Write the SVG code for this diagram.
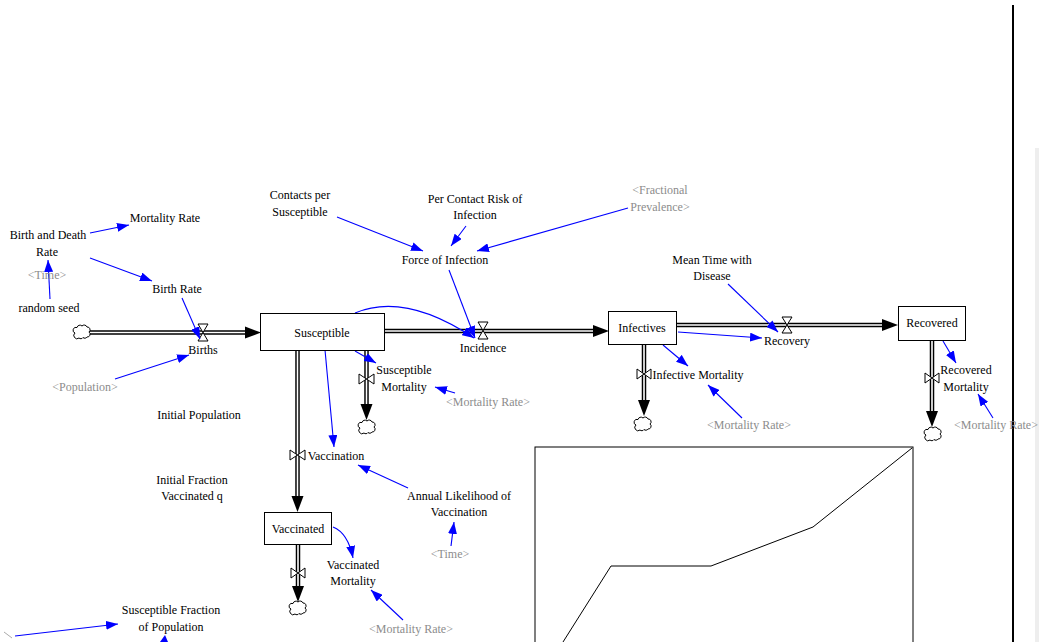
<svg xmlns="http://www.w3.org/2000/svg" width="1039" height="642" viewBox="0 0 1039 642" font-family="'Liberation Serif','Times New Roman',serif">
<style>
text{font-family:"Liberation Serif","Times New Roman",serif;font-size:12px;fill:#000;text-anchor:middle}
text.g{fill:#8c8c8c}
.box{fill:#fff;stroke:#000;stroke-width:1}
.po{stroke:#000;stroke-width:4.5;fill:none}
.pi{stroke:#fff;stroke-width:1.6;fill:none}
.ah{fill:#000}
.valve{fill:#fff;stroke:#000;stroke-width:1}
.cloud{fill:#fff;stroke:#000;stroke-width:1}
.lk{stroke:#0000ff;stroke-width:1.1;fill:none;marker-end:url(#a)}
</style>
<defs>
<marker id="a" markerWidth="12" markerHeight="9" refX="12" refY="4.5" orient="auto" markerUnits="userSpaceOnUse"><path d="M0,0 L12,4.5 L0,9 Z" fill="#0000ff"/></marker>
<path id="cl" d="M-7,1 A2.8,2.8 0 0 1 -5,-4.5 A3,3 0 0 1 0,-6 A3,3 0 0 1 5,-5 A2.8,2.8 0 0 1 7,0 A2.8,2.8 0 0 1 5,5 A2.6,2.6 0 0 1 1,5.5 A2.6,2.6 0 0 1 -3,6 A2.8,2.8 0 0 1 -7,1 Z" class="cloud"/>
</defs>

<rect width="1039" height="642" fill="#fff"/>
<line x1="1013" y1="5" x2="1013" y2="642" stroke="#000" stroke-width="2"/>
<rect x="1035" y="148" width="4" height="494" fill="#eeeeee"/>

<g id="graph">
<rect x="535" y="447" width="378" height="200" fill="#fff" stroke="#000" stroke-width="1"/>
<polyline points="912,448 813,527 711,566 611,566 563,642" fill="none" stroke="#000" stroke-width="1"/>
</g>

<g id="flows">
<!-- Births -->
<line class="po" x1="89" y1="332.5" x2="246" y2="332.5"/><line class="pi" x1="89" y1="332.5" x2="246" y2="332.5"/>
<polygon class="ah" points="261,332.5 245,326.5 245,338.5"/>
<use href="#cl" x="82" y="332"/>
<path class="valve" d="M198,324 L208,324 L198,341 L208,341 Z"/>
<!-- Incidence -->
<line class="po" x1="385" y1="331" x2="595" y2="331"/><line class="pi" x1="385" y1="331" x2="595" y2="331"/>
<polygon class="ah" points="609,331 593,325 593,337"/>
<path class="valve" d="M478,322 L488,322 L478,339 L488,339 Z"/>
<!-- Recovery -->
<line class="po" x1="677" y1="325" x2="884" y2="325"/><line class="pi" x1="677" y1="325" x2="884" y2="325"/>
<polygon class="ah" points="898,325 882,319 882,331"/>
<path class="valve" d="M782,317 L792,317 L782,333 L792,333 Z"/>
<!-- Susceptible Mortality -->
<line class="po" x1="366.5" y1="351" x2="366.5" y2="405"/><line class="pi" x1="366.5" y1="351" x2="366.5" y2="405"/>
<polygon class="ah" points="366.5,420 360.5,404 372.5,404"/>
<use href="#cl" x="367" y="427"/>
<path class="valve" d="M359,374 L359,384 L374,374 L374,384 Z"/>
<!-- Vaccination -->
<line class="po" x1="297.5" y1="351" x2="297.5" y2="498"/><line class="pi" x1="297.5" y1="351" x2="297.5" y2="498"/>
<polygon class="ah" points="297.5,512 291.5,496 303.5,496"/>
<path class="valve" d="M290,450 L290,460 L305,450 L305,460 Z"/>
<!-- Vaccinated Mortality -->
<line class="po" x1="298" y1="545" x2="298" y2="588"/><line class="pi" x1="298" y1="545" x2="298" y2="588"/>
<polygon class="ah" points="298,602 292,586 304,586"/>
<use href="#cl" x="298" y="608"/>
<path class="valve" d="M291,568 L291,578 L305,568 L305,578 Z"/>
<!-- Infective Mortality -->
<line class="po" x1="644" y1="345" x2="644" y2="402"/><line class="pi" x1="644" y1="345" x2="644" y2="402"/>
<polygon class="ah" points="644,416 638,400 650,400"/>
<use href="#cl" x="643" y="424"/>
<path class="valve" d="M637,369 L637,379 L651,369 L651,379 Z"/>
<!-- Recovered Mortality -->
<line class="po" x1="932" y1="341" x2="932" y2="413"/><line class="pi" x1="932" y1="341" x2="932" y2="413"/>
<polygon class="ah" points="932,427 926,411 938,411"/>
<use href="#cl" x="933" y="434"/>
<path class="valve" d="M925,373 L925,383 L939,373 L939,383 Z"/>
</g>

<g id="links">
<line class="lk" x1="90" y1="233" x2="129" y2="225"/>
<line class="lk" x1="90" y1="258" x2="152" y2="281"/>
<line class="lk" x1="50" y1="299" x2="48" y2="260"/>
<line class="lk" x1="182" y1="298" x2="200" y2="339"/>
<line class="lk" x1="115" y1="379" x2="189" y2="355"/>
<line class="lk" x1="337" y1="217" x2="423" y2="251"/>
<line class="lk" x1="466" y1="226" x2="451" y2="246"/>
<line class="lk" x1="628" y1="208" x2="477" y2="251"/>
<line class="lk" x1="449" y1="270" x2="475" y2="338"/>
<path class="lk" d="M355,313 Q405,292 474,338"/>
<line class="lk" x1="355" y1="351" x2="376" y2="363"/>
<line class="lk" x1="455" y1="393" x2="435" y2="387"/>
<line class="lk" x1="325" y1="350" x2="334" y2="447"/>
<line class="lk" x1="408" y1="488" x2="358" y2="465"/>
<line class="lk" x1="451" y1="546" x2="454" y2="522"/>
<path class="lk" d="M333,527 Q348,533 353,558"/>
<line class="lk" x1="403" y1="620" x2="371" y2="590"/>
<line class="lk" x1="678" y1="332" x2="762" y2="338"/>
<line class="lk" x1="663" y1="345" x2="688" y2="366"/>
<line class="lk" x1="742" y1="418" x2="708" y2="385"/>
<line class="lk" x1="728" y1="284" x2="778" y2="332"/>
<line class="lk" x1="943" y1="341" x2="956" y2="363"/>
<line class="lk" x1="993" y1="418" x2="978" y2="394"/>
<line class="lk" x1="15" y1="636" x2="118" y2="624"/>
<line x1="4" y1="632" x2="12" y2="638" stroke="#aaa" stroke-width="1"/>
<polygon points="165,635 160,642 168,642" fill="#0000ff"/>
</g>

<g id="Susceptible"><rect class="box" x="260.5" y="313.5" width="124" height="37"/><text x="322" y="337">Susceptible</text></g>
<g id="Infectives"><rect class="box" x="608.5" y="311.5" width="68" height="33"/><text x="642" y="332">Infectives</text></g>
<g id="Recovered"><rect class="box" x="898.5" y="306.5" width="67" height="34"/><text x="932" y="327">Recovered</text></g>
<g id="Vaccinated"><rect class="box" x="264.5" y="512.5" width="67" height="32"/><text x="298" y="533">Vaccinated</text></g>

<g id="BirthDeathRate"><text x="48" y="239">Birth and Death</text><text x="47" y="256">Rate</text></g>
<g id="MortalityRate"><text x="165" y="222">Mortality Rate</text></g>
<g id="Time1"><text class="g" x="47" y="279">&lt;Time&gt;</text></g>
<g id="RandomSeed"><text x="49" y="312">random seed</text></g>
<g id="BirthRate"><text x="177" y="293">Birth Rate</text></g>
<g id="Births"><text x="203" y="354">Births</text></g>
<g id="Population"><text class="g" x="85" y="391">&lt;Population&gt;</text></g>
<g id="InitialPopulation"><text x="199" y="419">Initial Population</text></g>
<g id="InitialFraction"><text x="192" y="484">Initial Fraction</text><text x="192" y="500">Vaccinated q</text></g>
<g id="Contacts"><text x="300" y="199">Contacts per</text><text x="300" y="216">Susceptible</text></g>
<g id="PerContact"><text x="475" y="203">Per Contact Risk of</text><text x="475" y="219">Infection</text></g>
<g id="FracPrev"><text class="g" x="660" y="194">&lt;Fractional</text><text class="g" x="660" y="211">Prevalence&gt;</text></g>
<g id="Force"><text x="445" y="264">Force of Infection</text></g>
<g id="Incidence"><text x="483" y="352">Incidence</text></g>
<g id="SusMort"><text x="404" y="374">Susceptible</text><text x="404" y="391">Mortality</text></g>
<g id="MR1"><text class="g" x="488" y="406">&lt;Mortality Rate&gt;</text></g>
<g id="Vaccination"><text x="336" y="460">Vaccination</text></g>
<g id="Annual"><text x="459" y="500">Annual Likelihood of</text><text x="459" y="516">Vaccination</text></g>
<g id="Time2"><text class="g" x="450" y="558">&lt;Time&gt;</text></g>
<g id="VacMort"><text x="353" y="569">Vaccinated</text><text x="353" y="585">Mortality</text></g>
<g id="MR2"><text class="g" x="411" y="633">&lt;Mortality Rate&gt;</text></g>
<g id="SusFrac"><text x="171" y="614">Susceptible Fraction</text><text x="171" y="631">of Population</text></g>
<g id="InfMort"><text x="698" y="379">Infective Mortality</text></g>
<g id="MR3"><text class="g" x="749" y="429">&lt;Mortality Rate&gt;</text></g>
<g id="MeanTime"><text x="712" y="264">Mean Time with</text><text x="712" y="280">Disease</text></g>
<g id="Recovery"><text x="787" y="345">Recovery</text></g>
<g id="RecMort"><text x="966" y="374">Recovered</text><text x="966" y="391">Mortality</text></g>
<g id="MR4"><text class="g" x="996" y="429">&lt;Mortality Rate&gt;</text></g>
</svg>
